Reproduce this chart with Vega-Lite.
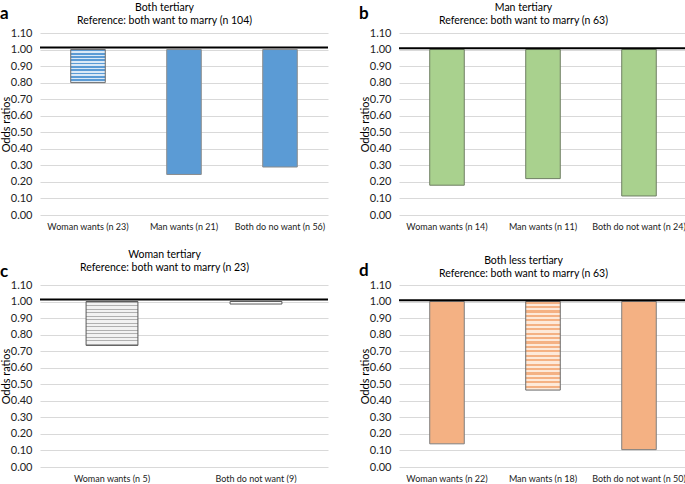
{
  "$schema": "https://vega.github.io/schema/vega-lite/v6.json",
  "padding": {"left": 0, "top": 3, "right": 0, "bottom": 0},
  "background": "white",
  "spacing": 19,
  "config": {
    "font": "Lato",
    "view": {"stroke": null},
    "title": {"font": "Lato", "fontWeight": "normal", "fontSize": 10.5, "color": "#000000"},
    "axisY": {"domain": false, "ticks": false, "gridColor": "#d9d9d9", "labelFontSize": 11, "labelColor": "#222", "labelPadding": 8, "labelOverlap": false, "titleFontSize": 11, "titleFontWeight": "normal", "titleColor": "#000", "titleX": -29},
    "axisX": {"domain": false, "ticks": false, "grid": false, "labelAngle": 0, "labelFontSize": 9, "labelColor": "#222", "labelPadding": 7, "title": null}
  },
  "datasets": {
    "t": [
      {"panel": "a", "cat": "Woman wants (n 23)", "or": 0.80},
      {"panel": "a", "cat": "Man wants (n 21)", "or": 0.245},
      {"panel": "a", "cat": "Both do no want (n 56)", "or": 0.29},
      {"panel": "b", "cat": "Woman wants (n 14)", "or": 0.18},
      {"panel": "b", "cat": "Man wants (n 11)", "or": 0.22},
      {"panel": "b", "cat": "Both do not want (n 24)", "or": 0.115},
      {"panel": "c", "cat": "Woman wants (n 5)", "or": 0.735},
      {"panel": "c", "cat": "Both do not want (9)", "or": 0.985},
      {"panel": "d", "cat": "Woman wants (n 22)", "or": 0.14},
      {"panel": "d", "cat": "Man wants (n 18)", "or": 0.465},
      {"panel": "d", "cat": "Both do not want (n 50)", "or": 0.105}
    ]
  },
  "vconcat": [
    {
      "spacing": 30,
      "hconcat": [
        {
          "title": {"text": "a", "anchor": "start", "fontSize": 17, "fontWeight": "bold", "offset": -20},
          "hconcat": [
            {
              "width": 288, "height": 182,
              "title": {"text": ["Both tertiary", "Reference: both want to marry (n 104)"], "frame": "bounds", "offset": 1},
              "data": {"name": "t"},
              "transform": [{"filter": "datum.panel == 'a'"}],
              "layer": [
                {
                  "transform": [{"filter": "datum.cat != 'Woman wants (n 23)'"}],
                  "mark": {"type": "bar", "fill": "#5b9bd5", "stroke": "#8c8c8c", "strokeWidth": 1, "width": {"band": 0.4}},
                  "encoding": {
                    "x": {"field": "cat", "type": "nominal", "scale": {"domain": ["Woman wants (n 23)", "Man wants (n 21)", "Both do no want (n 56)"]}},
                    "y": {"field": "or", "type": "quantitative", "scale": {"domain": [0, 1.1], "nice": false}, "title": "Odds ratios", "axis": {"values": [0, 0.1, 0.2, 0.3, 0.4, 0.5, 0.6, 0.7, 0.8, 0.9, 1.0, 1.1], "tickCount": 12, "format": ".2f", "labelOverlap": false}},
                    "y2": {"datum": 1}
                  }
                },
                {
                  "transform": [{"filter": "datum.cat == 'Woman wants (n 23)'"}],
                  "mark": {"type": "bar", "stroke": "#6b6b6b", "strokeWidth": 1, "width": {"band": 0.4},
                    "fill": {"gradient": "linear", "x1": 0, "y1": 0, "x2": 0, "y2": 1, "stops": [
                      {"offset": 0, "color": "#5b9bd5"}, {"offset": 0.05, "color": "#5b9bd5"}, {"offset": 0.05, "color": "#dbe9f6"}, {"offset": 0.1, "color": "#dbe9f6"},
                      {"offset": 0.1, "color": "#5b9bd5"}, {"offset": 0.15, "color": "#5b9bd5"}, {"offset": 0.15, "color": "#dbe9f6"}, {"offset": 0.2, "color": "#dbe9f6"},
                      {"offset": 0.2, "color": "#5b9bd5"}, {"offset": 0.25, "color": "#5b9bd5"}, {"offset": 0.25, "color": "#dbe9f6"}, {"offset": 0.3, "color": "#dbe9f6"},
                      {"offset": 0.3, "color": "#5b9bd5"}, {"offset": 0.35, "color": "#5b9bd5"}, {"offset": 0.35, "color": "#dbe9f6"}, {"offset": 0.4, "color": "#dbe9f6"},
                      {"offset": 0.4, "color": "#5b9bd5"}, {"offset": 0.45, "color": "#5b9bd5"}, {"offset": 0.45, "color": "#dbe9f6"}, {"offset": 0.5, "color": "#dbe9f6"},
                      {"offset": 0.5, "color": "#5b9bd5"}, {"offset": 0.55, "color": "#5b9bd5"}, {"offset": 0.55, "color": "#dbe9f6"}, {"offset": 0.6, "color": "#dbe9f6"},
                      {"offset": 0.6, "color": "#5b9bd5"}, {"offset": 0.65, "color": "#5b9bd5"}, {"offset": 0.65, "color": "#dbe9f6"}, {"offset": 0.7, "color": "#dbe9f6"},
                      {"offset": 0.7, "color": "#5b9bd5"}, {"offset": 0.75, "color": "#5b9bd5"}, {"offset": 0.75, "color": "#dbe9f6"}, {"offset": 0.8, "color": "#dbe9f6"},
                      {"offset": 0.8, "color": "#5b9bd5"}, {"offset": 0.85, "color": "#5b9bd5"}, {"offset": 0.85, "color": "#dbe9f6"}, {"offset": 0.9, "color": "#dbe9f6"},
                      {"offset": 0.9, "color": "#5b9bd5"}, {"offset": 0.95, "color": "#5b9bd5"}, {"offset": 0.95, "color": "#dbe9f6"}, {"offset": 1, "color": "#dbe9f6"}
                    ]}},
                  "encoding": {
                    "x": {"field": "cat", "type": "nominal"},
                    "y": {"field": "or", "type": "quantitative"},
                    "y2": {"datum": 1}
                  }
                },
                {
                  "data": {"values": [{"ref": 1.012}]},
                  "mark": {"type": "rule", "color": "#000000", "strokeWidth": 2},
                  "encoding": {"y": {"field": "ref", "type": "quantitative"}}
                }
              ]
            }
          ]
        },
        {
          "title": {"text": "b", "anchor": "start", "fontSize": 17, "fontWeight": "bold", "offset": -20},
          "hconcat": [
            {
              "width": 288, "height": 182,
              "title": {"text": ["Man tertiary", "Reference: both want to marry (n 63)"], "frame": "bounds", "offset": 1},
              "data": {"name": "t"},
              "transform": [{"filter": "datum.panel == 'b'"}],
              "layer": [
                {
                  "mark": {"type": "bar", "fill": "#a9d18e", "stroke": "#6f7f63", "strokeWidth": 1, "width": {"band": 0.4}},
                  "encoding": {
                    "x": {"field": "cat", "type": "nominal", "sort": null},
                    "y": {"field": "or", "type": "quantitative", "scale": {"domain": [0, 1.1], "nice": false}, "title": "Odds ratios", "axis": {"values": [0, 0.1, 0.2, 0.3, 0.4, 0.5, 0.6, 0.7, 0.8, 0.9, 1.0, 1.1], "tickCount": 12, "format": ".2f", "labelOverlap": false}},
                    "y2": {"datum": 1}
                  }
                },
                {
                  "data": {"values": [{"ref": 1.008}]},
                  "mark": {"type": "rule", "color": "#000000", "strokeWidth": 2},
                  "encoding": {"y": {"field": "ref", "type": "quantitative"}}
                }
              ]
            }
          ]
        }
      ]
    },
    {
      "spacing": 30,
      "hconcat": [
        {
          "title": {"text": "c", "anchor": "start", "fontSize": 17, "fontWeight": "bold", "offset": -31},
          "hconcat": [
            {
              "width": 288, "height": 182,
              "title": {"text": ["Woman tertiary", "Reference: both want to marry (n 23)"], "frame": "bounds", "offset": 6},
              "data": {"name": "t"},
              "transform": [{"filter": "datum.panel == 'c'"}],
              "layer": [
                {
                  "transform": [{"filter": "datum.cat == 'Woman wants (n 5)'"}],
                  "mark": {"type": "bar", "stroke": "#595959", "strokeWidth": 1, "width": {"band": 0.4},
                    "fill": {"gradient": "linear", "x1": 0, "y1": 0, "x2": 0, "y2": 1, "stops": [
                      {"offset": 0, "color": "#b0b0b0"}, {"offset": 0.03, "color": "#b0b0b0"}, {"offset": 0.03, "color": "#f2f2f2"}, {"offset": 0.08, "color": "#f2f2f2"},
                      {"offset": 0.08, "color": "#b0b0b0"}, {"offset": 0.11, "color": "#b0b0b0"}, {"offset": 0.11, "color": "#f2f2f2"}, {"offset": 0.16, "color": "#f2f2f2"},
                      {"offset": 0.16, "color": "#b0b0b0"}, {"offset": 0.19, "color": "#b0b0b0"}, {"offset": 0.19, "color": "#f2f2f2"}, {"offset": 0.24, "color": "#f2f2f2"},
                      {"offset": 0.24, "color": "#b0b0b0"}, {"offset": 0.27, "color": "#b0b0b0"}, {"offset": 0.27, "color": "#f2f2f2"}, {"offset": 0.32, "color": "#f2f2f2"},
                      {"offset": 0.32, "color": "#b0b0b0"}, {"offset": 0.35, "color": "#b0b0b0"}, {"offset": 0.35, "color": "#f2f2f2"}, {"offset": 0.4, "color": "#f2f2f2"},
                      {"offset": 0.4, "color": "#b0b0b0"}, {"offset": 0.43, "color": "#b0b0b0"}, {"offset": 0.43, "color": "#f2f2f2"}, {"offset": 0.48, "color": "#f2f2f2"},
                      {"offset": 0.48, "color": "#b0b0b0"}, {"offset": 0.51, "color": "#b0b0b0"}, {"offset": 0.51, "color": "#f2f2f2"}, {"offset": 0.56, "color": "#f2f2f2"},
                      {"offset": 0.56, "color": "#b0b0b0"}, {"offset": 0.59, "color": "#b0b0b0"}, {"offset": 0.59, "color": "#f2f2f2"}, {"offset": 0.64, "color": "#f2f2f2"},
                      {"offset": 0.64, "color": "#b0b0b0"}, {"offset": 0.67, "color": "#b0b0b0"}, {"offset": 0.67, "color": "#f2f2f2"}, {"offset": 0.72, "color": "#f2f2f2"},
                      {"offset": 0.72, "color": "#b0b0b0"}, {"offset": 0.75, "color": "#b0b0b0"}, {"offset": 0.75, "color": "#f2f2f2"}, {"offset": 0.8, "color": "#f2f2f2"},
                      {"offset": 0.8, "color": "#b0b0b0"}, {"offset": 0.83, "color": "#b0b0b0"}, {"offset": 0.83, "color": "#f2f2f2"}, {"offset": 0.88, "color": "#f2f2f2"},
                      {"offset": 0.88, "color": "#b0b0b0"}, {"offset": 0.91, "color": "#b0b0b0"}, {"offset": 0.91, "color": "#f2f2f2"}, {"offset": 0.96, "color": "#f2f2f2"},
                      {"offset": 0.96, "color": "#b0b0b0"}, {"offset": 1, "color": "#b0b0b0"}
                    ]}},
                  "encoding": {
                    "x": {"field": "cat", "type": "nominal", "scale": {"domain": ["Woman wants (n 5)", "Both do not want (9)"]}},
                    "y": {"field": "or", "type": "quantitative", "scale": {"domain": [0, 1.1], "nice": false}, "title": "Odds ratios", "axis": {"values": [0, 0.1, 0.2, 0.3, 0.4, 0.5, 0.6, 0.7, 0.8, 0.9, 1.0, 1.1], "tickCount": 12, "format": ".2f", "labelOverlap": false}},
                    "y2": {"datum": 1}
                  }
                },
                {
                  "transform": [{"filter": "datum.cat != 'Woman wants (n 5)'"}],
                  "mark": {"type": "bar", "fill": "#ffffff", "stroke": "#595959", "strokeWidth": 1, "width": {"band": 0.4}},
                  "encoding": {
                    "x": {"field": "cat", "type": "nominal"},
                    "y": {"field": "or", "type": "quantitative"},
                    "y2": {"datum": 1}
                  }
                },
                {
                  "data": {"values": [{"ref": 1.012}]},
                  "mark": {"type": "rule", "color": "#000000", "strokeWidth": 2},
                  "encoding": {"y": {"field": "ref", "type": "quantitative"}}
                }
              ]
            }
          ]
        },
        {
          "title": {"text": "d", "anchor": "start", "fontSize": 17, "fontWeight": "bold", "offset": -24},
          "hconcat": [
            {
              "width": 288, "height": 182,
              "title": {"text": ["Both less tertiary", "Reference: both want to marry (n 63)"], "frame": "bounds", "offset": 0},
              "data": {"name": "t"},
              "transform": [{"filter": "datum.panel == 'd'"}],
              "layer": [
                {
                  "transform": [{"filter": "datum.cat != 'Man wants (n 18)'"}],
                  "mark": {"type": "bar", "fill": "#f4b183", "stroke": "#7f7f7f", "strokeWidth": 1, "width": {"band": 0.4}},
                  "encoding": {
                    "x": {"field": "cat", "type": "nominal", "scale": {"domain": ["Woman wants (n 22)", "Man wants (n 18)", "Both do not want (n 50)"]}},
                    "y": {"field": "or", "type": "quantitative", "scale": {"domain": [0, 1.1], "nice": false}, "title": "Odds ratios", "axis": {"values": [0, 0.1, 0.2, 0.3, 0.4, 0.5, 0.6, 0.7, 0.8, 0.9, 1.0, 1.1], "tickCount": 12, "format": ".2f", "labelOverlap": false}},
                    "y2": {"datum": 1}
                  }
                },
                {
                  "transform": [{"filter": "datum.cat == 'Man wants (n 18)'"}],
                  "mark": {"type": "bar", "stroke": "#6b6b6b", "strokeWidth": 1, "width": {"band": 0.4},
                    "fill": {"gradient": "linear", "x1": 0, "y1": 0, "x2": 0, "y2": 1, "stops": [
                      {"offset": 0, "color": "#f4b183"}, {"offset": 0.025, "color": "#f4b183"}, {"offset": 0.025, "color": "#fde9d9"}, {"offset": 0.05, "color": "#fde9d9"},
                      {"offset": 0.05, "color": "#f4b183"}, {"offset": 0.075, "color": "#f4b183"}, {"offset": 0.075, "color": "#fde9d9"}, {"offset": 0.1, "color": "#fde9d9"},
                      {"offset": 0.1, "color": "#f4b183"}, {"offset": 0.125, "color": "#f4b183"}, {"offset": 0.125, "color": "#fde9d9"}, {"offset": 0.15, "color": "#fde9d9"},
                      {"offset": 0.15, "color": "#f4b183"}, {"offset": 0.175, "color": "#f4b183"}, {"offset": 0.175, "color": "#fde9d9"}, {"offset": 0.2, "color": "#fde9d9"},
                      {"offset": 0.2, "color": "#f4b183"}, {"offset": 0.225, "color": "#f4b183"}, {"offset": 0.225, "color": "#fde9d9"}, {"offset": 0.25, "color": "#fde9d9"},
                      {"offset": 0.25, "color": "#f4b183"}, {"offset": 0.275, "color": "#f4b183"}, {"offset": 0.275, "color": "#fde9d9"}, {"offset": 0.3, "color": "#fde9d9"},
                      {"offset": 0.3, "color": "#f4b183"}, {"offset": 0.325, "color": "#f4b183"}, {"offset": 0.325, "color": "#fde9d9"}, {"offset": 0.35, "color": "#fde9d9"},
                      {"offset": 0.35, "color": "#f4b183"}, {"offset": 0.375, "color": "#f4b183"}, {"offset": 0.375, "color": "#fde9d9"}, {"offset": 0.4, "color": "#fde9d9"},
                      {"offset": 0.4, "color": "#f4b183"}, {"offset": 0.425, "color": "#f4b183"}, {"offset": 0.425, "color": "#fde9d9"}, {"offset": 0.45, "color": "#fde9d9"},
                      {"offset": 0.45, "color": "#f4b183"}, {"offset": 0.475, "color": "#f4b183"}, {"offset": 0.475, "color": "#fde9d9"}, {"offset": 0.5, "color": "#fde9d9"},
                      {"offset": 0.5, "color": "#f4b183"}, {"offset": 0.525, "color": "#f4b183"}, {"offset": 0.525, "color": "#fde9d9"}, {"offset": 0.55, "color": "#fde9d9"},
                      {"offset": 0.55, "color": "#f4b183"}, {"offset": 0.575, "color": "#f4b183"}, {"offset": 0.575, "color": "#fde9d9"}, {"offset": 0.6, "color": "#fde9d9"},
                      {"offset": 0.6, "color": "#f4b183"}, {"offset": 0.625, "color": "#f4b183"}, {"offset": 0.625, "color": "#fde9d9"}, {"offset": 0.65, "color": "#fde9d9"},
                      {"offset": 0.65, "color": "#f4b183"}, {"offset": 0.675, "color": "#f4b183"}, {"offset": 0.675, "color": "#fde9d9"}, {"offset": 0.7, "color": "#fde9d9"},
                      {"offset": 0.7, "color": "#f4b183"}, {"offset": 0.725, "color": "#f4b183"}, {"offset": 0.725, "color": "#fde9d9"}, {"offset": 0.75, "color": "#fde9d9"},
                      {"offset": 0.75, "color": "#f4b183"}, {"offset": 0.775, "color": "#f4b183"}, {"offset": 0.775, "color": "#fde9d9"}, {"offset": 0.8, "color": "#fde9d9"},
                      {"offset": 0.8, "color": "#f4b183"}, {"offset": 0.825, "color": "#f4b183"}, {"offset": 0.825, "color": "#fde9d9"}, {"offset": 0.85, "color": "#fde9d9"},
                      {"offset": 0.85, "color": "#f4b183"}, {"offset": 0.875, "color": "#f4b183"}, {"offset": 0.875, "color": "#fde9d9"}, {"offset": 0.9, "color": "#fde9d9"},
                      {"offset": 0.9, "color": "#f4b183"}, {"offset": 0.925, "color": "#f4b183"}, {"offset": 0.925, "color": "#fde9d9"}, {"offset": 0.95, "color": "#fde9d9"},
                      {"offset": 0.95, "color": "#f4b183"}, {"offset": 0.975, "color": "#f4b183"}, {"offset": 0.975, "color": "#fde9d9"}, {"offset": 1, "color": "#fde9d9"}
                    ]}},
                  "encoding": {
                    "x": {"field": "cat", "type": "nominal"},
                    "y": {"field": "or", "type": "quantitative"},
                    "y2": {"datum": 1}
                  }
                },
                {
                  "data": {"values": [{"ref": 1.008}]},
                  "mark": {"type": "rule", "color": "#000000", "strokeWidth": 2},
                  "encoding": {"y": {"field": "ref", "type": "quantitative"}}
                }
              ]
            }
          ]
        }
      ]
    }
  ]
}
